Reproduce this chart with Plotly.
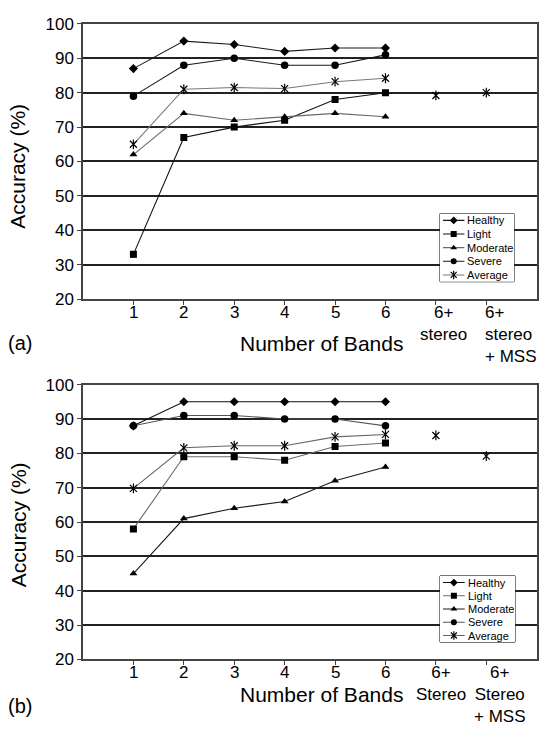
import plotly.graph_objects as go

# ---------------- data ----------------
cats_a = ["1", "2", "3", "4", "5", "6", "6+<br>stereo", "6+<br>stereo<br>+ MSS"]
cats_b = ["1", "2", "3", "4", "5", "6", "6+<br>Stereo", "6+<br>Stereo<br>+ MSS"]
series_names = ["Healthy", "Light", "Moderate", "Severe", "Average"]

healthy_a = [87, 95, 94, 92, 93, 93]
light_a = [33, 67, 70, 72, 78, 80]
moderate_a = [62, 74, 72, 73, 74, 73]
severe_a = [79, 88, 90, 88, 88, 91]
average_a = [65, 81, 81.5, 81.2, 83.2, 84.2]
average_extra_a = [79.2, 80]

healthy_b = [88, 95, 95, 95, 95, 95]
light_b = [58, 79, 79, 78, 82, 83]
moderate_b = [45, 61, 64, 66, 72, 76]
severe_b = [88, 91, 91, 90, 90, 88]
average_b = [69.8, 81.6, 82.2, 82.2, 84.8, 85.5]
average_extra_b = [85.2, 79.2]

y_ticks = [20, 30, 40, 50, 60, 70, 80, 90, 100]

# ---------------- styles ----------------
W, H = 542, 733
FONT = "Liberation Sans, Arial, sans-serif"
symbols = ["diamond", "square", "triangle-up", "circle", "x-thin-open"]
msizes = [7, 7, 7, 7.5, 7]
line_cols_a = ["#1a1a1a", "#111111", "#6a6a6a", "#1a1a1a", "#777777"]
line_cols_b = ["#111111", "#6a6a6a", "#1a1a1a", "#555555", "#666666"]
# category-label placement: (xshift px, xanchor/align) for the wide labels
label_style_a = {6: (8, "center"), 7: (-3, "left")}
label_style_b = {6: (5, "center"), 7: (14, "center")}
LABEL_GAP = 1.5  # px between axis line and top of the label box


def px_x(v):
    return v / W


def px_y(v):
    return 1 - v / H


def mk(i, size=None):
    s = size if size else msizes[i]
    if symbols[i] == "x-thin-open":
        return dict(symbol=symbols[i], size=s, color="black", line=dict(color="black", width=1.2))
    return dict(symbol=symbols[i], size=s, color="black", line=dict(width=0))


star_bar = dict(symbol="line-ns-open", size=7, color="black", line=dict(color="black", width=1.2))

fig = go.Figure()

top_a, bot_a = 15.3, 297.8
top_b, bot_b = 385.6, 667.8
left, right = 83.0, 536.7

# legend boxes (pixel) : left, right, top, bottom
leg_boxes = [(440, 514, 210, 280), (440, 515, 582, 650)]

panels = [
    ("x", "y", "x3", "y3", cats_a, [healthy_a, light_a, moderate_a, severe_a, average_a],
     average_extra_a, line_cols_a, bot_a, label_style_a),
    ("x2", "y2", "x4", "y4", cats_b, [healthy_b, light_b, moderate_b, severe_b, average_b],
     average_extra_b, line_cols_b, bot_b, label_style_b),
]

for xa, ya, lxa, lya, cats, vals, extra, lcols, bot, lstyle in panels:
    for i, (name, v) in enumerate(zip(series_names, vals)):
        fig.add_trace(go.Scatter(
            x=cats[:len(v)], y=v, name=name, mode="lines+markers",
            xaxis=xa, yaxis=ya, showlegend=False,
            line=dict(color=lcols[i], width=1.1), marker=mk(i),
        ))
    avg_all_x = cats[:len(vals[-1])] + cats[len(vals[-1]):]
    avg_all_y = list(vals[-1]) + list(extra)
    fig.add_trace(go.Scatter(
        x=cats[len(vals[-1]):], y=extra, name=series_names[-1], mode="markers",
        xaxis=xa, yaxis=ya, showlegend=False, marker=mk(4),
    ))
    fig.add_trace(go.Scatter(
        x=avg_all_x, y=avg_all_y, mode="markers", xaxis=xa, yaxis=ya,
        showlegend=False, hoverinfo="skip", marker=star_bar,
    ))
    # category labels, one annotation per category
    for ci, lab in enumerate(cats):
        sh, anc = lstyle.get(ci, (0, "center"))
        fig.add_annotation(
            text=lab, x=ci, y=px_y(bot + LABEL_GAP), xref=xa, yref="paper",
            showarrow=False, xanchor=anc, align=anc, yanchor="top", xshift=sh,
            font=dict(family=FONT, size=17, color="black"),
        )
    # custom legend (drawn on a small overlay axis, rows indexed by series)
    for i, name in enumerate(series_names):
        row = i + 0.5
        fig.add_trace(go.Scatter(
            x=[0.04, 0.33], y=[row, row], mode="lines", xaxis=lxa, yaxis=lya,
            showlegend=False, hoverinfo="skip", line=dict(color=lcols[i], width=1.1),
        ))
        fig.add_trace(go.Scatter(
            x=[0.185], y=[row], mode="markers", xaxis=lxa, yaxis=lya,
            showlegend=False, hoverinfo="skip", marker=mk(i, 6),
        ))
        if symbols[i] == "x-thin-open":
            fig.add_trace(go.Scatter(
                x=[0.185], y=[row], mode="markers", xaxis=lxa, yaxis=lya,
                showlegend=False, hoverinfo="skip", marker=dict(star_bar, size=6),
            ))
        fig.add_annotation(
            text=name, x=0.34, y=row, xref=lxa, yref=lya, showarrow=False,
            xanchor="left", yanchor="middle",
            font=dict(family=FONT, size=11, color="black"),
        )

axis_common = dict(
    showline=True, linecolor="#444444", linewidth=1.5, mirror=True,
    ticks="outside", ticklen=4, tickcolor="#444444", tickwidth=1.2,
    zeroline=False,
)
xcommon = dict(axis_common, type="category", range=[-1, 8], showgrid=False, showticklabels=False)
ycommon = dict(axis_common, range=[20, 100], tickvals=y_ticks, showgrid=True,
               gridcolor="#222222", gridwidth=1.5,
               tickfont=dict(family=FONT, size=17, color="black"))
hidden = dict(visible=False, showgrid=False, zeroline=False, fixedrange=True)

la, lb = leg_boxes
fig.update_layout(
    width=W, height=H,
    margin=dict(l=0, r=0, t=0, b=0),
    paper_bgcolor="white", plot_bgcolor="white",
    font=dict(family=FONT, color="black"),
    showlegend=False,
    xaxis=dict(xcommon, domain=[px_x(left), px_x(right)], anchor="y", categoryorder="array", categoryarray=cats_a),
    yaxis=dict(ycommon, domain=[px_y(bot_a), px_y(top_a)], anchor="x"),
    xaxis2=dict(xcommon, domain=[px_x(left), px_x(right)], anchor="y2", categoryorder="array", categoryarray=cats_b),
    yaxis2=dict(ycommon, domain=[px_y(bot_b), px_y(top_b)], anchor="x2"),
    xaxis3=dict(hidden, domain=[px_x(la[0]), px_x(la[1])], range=[0, 1], anchor="y3"),
    yaxis3=dict(hidden, domain=[px_y(la[3]), px_y(la[2])], range=[5, 0], anchor="x3"),
    xaxis4=dict(hidden, domain=[px_x(lb[0]), px_x(lb[1])], range=[0, 1], anchor="y4"),
    yaxis4=dict(hidden, domain=[px_y(lb[3]), px_y(lb[2])], range=[5, 0], anchor="x4"),
)

for bx in leg_boxes:
    fig.add_shape(type="rect", xref="paper", yref="paper",
                  x0=px_x(bx[0]), x1=px_x(bx[1]), y0=px_y(bx[3]), y1=px_y(bx[2]),
                  line=dict(color="black", width=1), fillcolor="white", layer="below")

annots = [
    ("(a)", 6, 343, 20, 0, "left"),
    ("(b)", 6, 716, 20, 0, "left"),
    ("Number of Bands", 321, 343, 21, 0, "center"),
    ("Number of Bands", 321, 704, 21, 0, "center"),
    ("Accuracy (%)", 18, 162, 21, -90, "center"),
    ("Accuracy (%)", 18, 530, 21, -90, "center"),
]
for text, xpx, ypx, size, ang, xanc in annots:
    fig.add_annotation(
        text=text, x=px_x(xpx), y=px_y(ypx), xref="paper", yref="paper",
        showarrow=False, textangle=ang, xanchor=xanc, yanchor="middle",
        font=dict(family=FONT, size=size, color="black"),
    )

fig.write_html("out.html", config={"displayModeBar": False},
               post_script="document.body.style.margin='0px';")
